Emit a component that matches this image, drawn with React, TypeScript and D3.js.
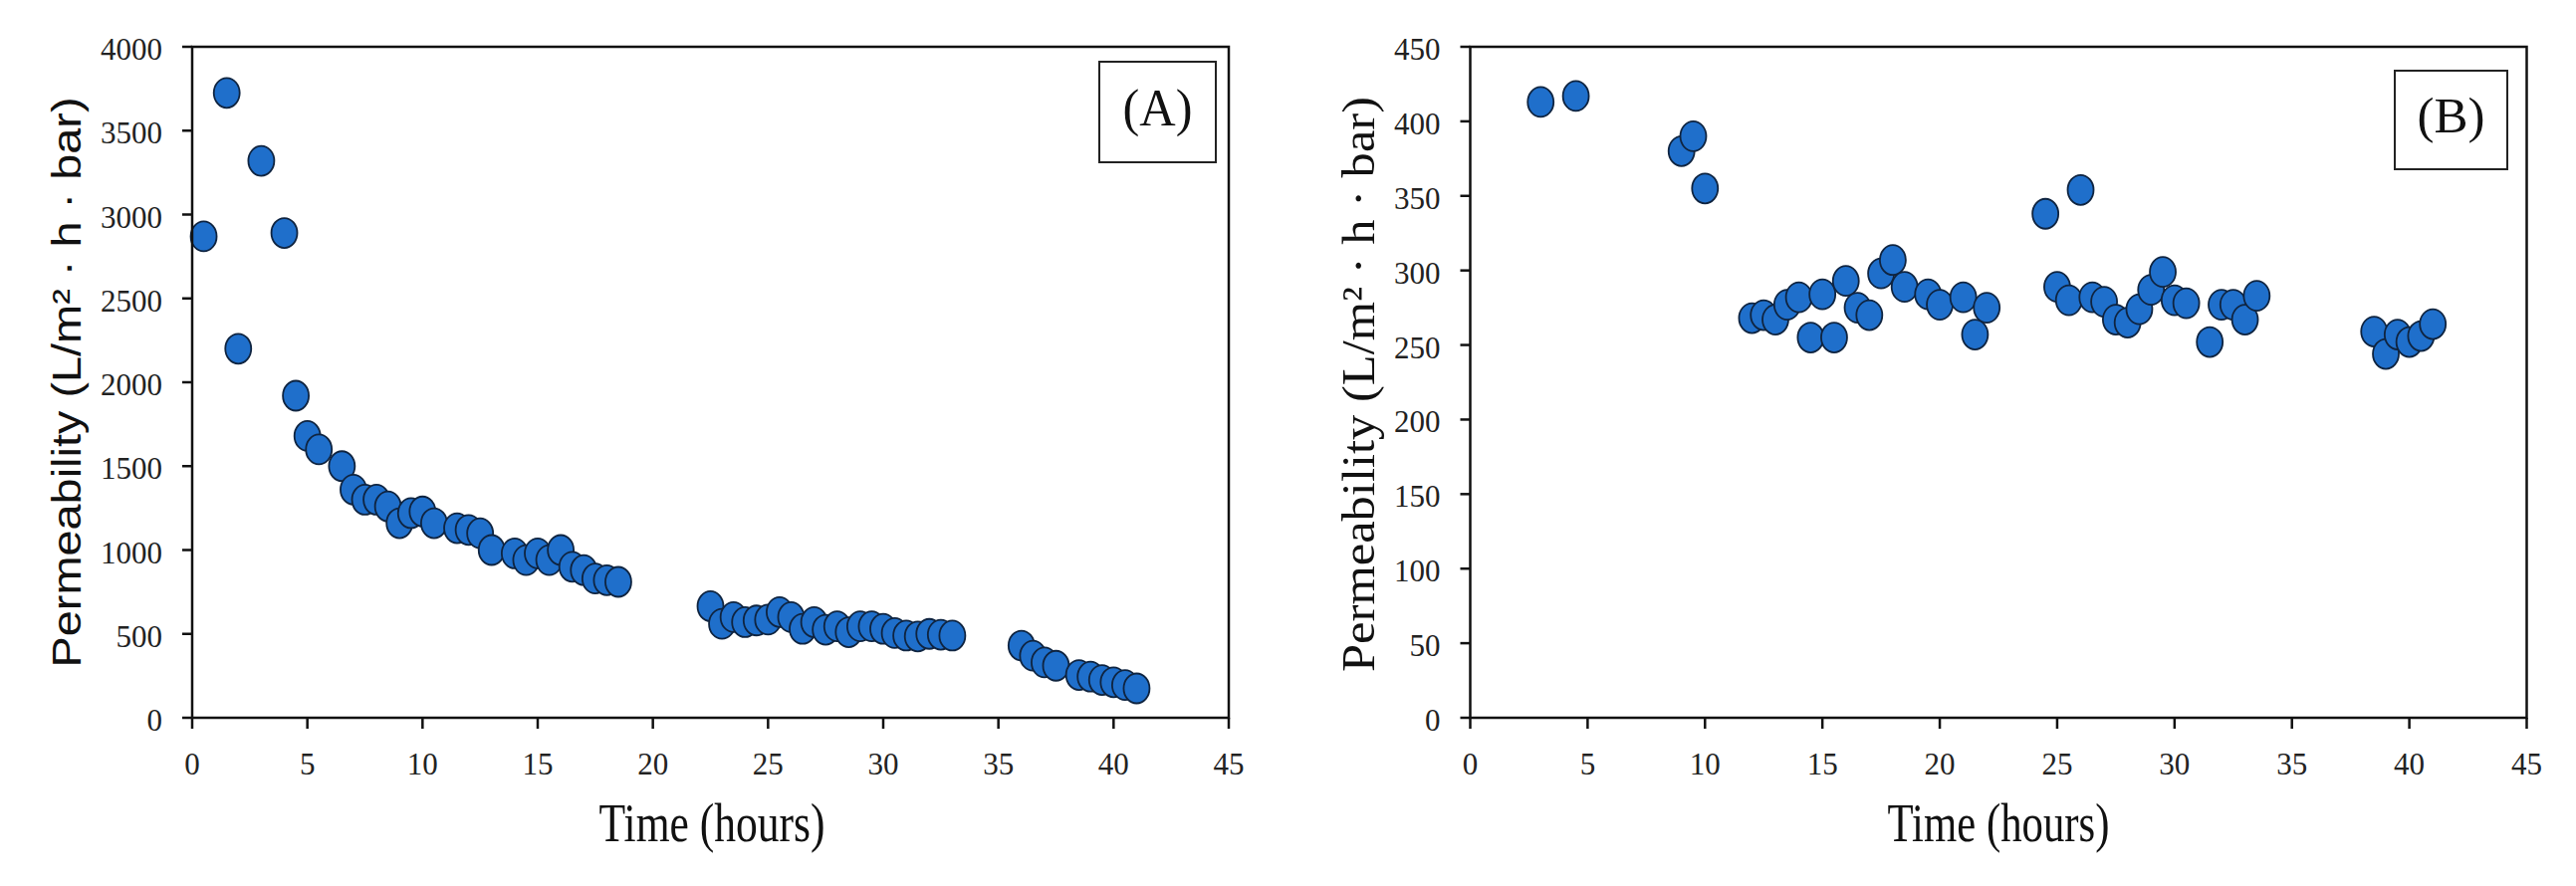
import React from 'react'
import * as d3 from 'd3'

// Panel A: permeability over time (first membrane)
const timeA = [
  0.5, 1.5, 2, 3, 4, 4.5, 5, 5.5, 6.5, 7, 7.5, 8, 8.5, 9, 9.5, 10, 10.5, 11.5, 12, 12.5, 13,
  14, 14.5, 15, 15.5, 16, 16.5, 17, 17.5, 18, 18.5,
  22.5, 23, 23.5, 24, 24.5, 25, 25.5, 26, 26.5, 27, 27.5, 28, 28.5, 29, 29.5, 30, 30.5, 31, 31.5, 32, 32.5, 33,
  36, 36.5, 37, 37.5, 38.5, 39, 39.5, 40, 40.5, 41,
]
const permA = [
  2870, 3725, 2200, 3320, 2890, 1920, 1680, 1600, 1500, 1360, 1300, 1300, 1260, 1160, 1220, 1230, 1160, 1130, 1120, 1100, 1000,
  980, 940, 980, 940, 1000, 900, 880, 830, 820, 810,
  665, 560, 600, 570, 580, 585, 630, 600, 530, 570, 525, 545, 510, 545, 545, 530, 505, 490, 485, 500, 495, 490,
  430, 370, 330, 310, 255, 245, 225, 212, 195, 175,
]

// Panel B
const timeB = [
  3, 4.5, 9, 9.5, 10,
  12, 12.5, 13, 13.5, 14, 14.5, 15, 15.5, 16, 16.5, 17, 17.5, 18, 18.5,
  19.5, 20, 21, 21.5, 22,
  24.5, 25, 25.5, 26, 26.5, 27, 27.5, 28, 28.5, 29, 29.5, 30, 30.5,
  31.5, 32, 32.5, 33, 33.5,
  38.5, 39, 39.5, 40, 40.5, 41,
]
const permB = [
  413, 417, 380, 390, 355,
  268, 270, 267, 277, 282, 255, 284, 255, 293, 275, 270, 298, 307, 289,
  284, 277, 282, 257, 275,
  338, 289, 280, 354, 282, 279, 267, 265, 274, 287, 299, 280, 278,
  252, 277, 277, 267, 283,
  259, 244, 257, 252, 256, 264,
]

const xTicks = [0, 5, 10, 15, 20, 25, 30, 35, 40, 45]
const yTicksA = [0, 500, 1000, 1500, 2000, 2500, 3000, 3500, 4000]
const yTicksB = [0, 50, 100, 150, 200, 250, 300, 350, 400, 450]

const X_LABEL = 'Time (hours)'
const Y_LABEL = 'Permeability (L/m\u00b2 \u00b7 h \u00b7 bar)'

const SERIF = '"Liberation Serif", "Times New Roman", serif'
const SANS = '"Liberation Sans", Arial, sans-serif'
const FILL = '#1f6fcb'
const EDGE = '#0f2440'

const panels = [
  {
    key: 'A', times: timeA, values: permA, yTicks: yTicksA, tag: '(A)',
    left: 193, right: 1234, top: 47, bottom: 721,
    yFont: SANS, ySize: 41, yLabelX: 81, yLabelY: 384, yLabelLen: 573,
    xLabelX: 715, xLabelLen: 227,
    box: { x: 1104, y: 62, w: 117, h: 101 }, tagSize: 52, tagLen: 70,
  },
  {
    key: 'B', times: timeB, values: permB, yTicks: yTicksB, tag: '(B)',
    left: 1476.5, right: 2537.5, top: 47, bottom: 721,
    yFont: SERIF, ySize: 46, yLabelX: 1380, yLabelY: 386, yLabelLen: 578,
    xLabelX: 2007, xLabelLen: 223,
    box: { x: 2405, y: 71, w: 113, h: 99 }, tagSize: 50, tagLen: 68,
  },
]

function Panel({ p }) {
  const x = d3.scaleLinear().domain([0, 45]).range([p.left, p.right])
  const yMax = p.yTicks[p.yTicks.length - 1]
  const y = d3.scaleLinear().domain([0, yMax]).range([p.bottom, p.top])
  const pts = d3.zip(p.times, p.values)

  return (
    <g>
      {/* y ticks + labels */}
      {p.yTicks.map((t) => (
        <g key={'y' + t}>
          <line x1={p.left - 10} x2={p.left} y1={y(t)} y2={y(t)} stroke="#111" strokeWidth={2.5} />
          <text x={p.left - 30} y={y(t) + 13} textAnchor="end" fontFamily={SERIF} fontSize={31} fill="#222">
            {t}
          </text>
        </g>
      ))}
      {xTicks.map((t) => (
        <g key={'x' + t}>
          <line x1={x(t)} x2={x(t)} y1={p.bottom} y2={p.bottom + 11} stroke="#111" strokeWidth={2.5} />
          <text x={x(t)} y={p.bottom + 57} textAnchor="middle" fontFamily={SERIF} fontSize={31} fill="#222">
            {t}
          </text>
        </g>
      ))}

      {pts.map(([t, v], i) => (
        <ellipse key={i} cx={x(t)} cy={y(v)} rx={13} ry={15} fill={FILL} stroke={EDGE} strokeWidth={1.8} />
      ))}

      <rect x={p.left} y={p.top} width={p.right - p.left} height={p.bottom - p.top}
        fill="none" stroke="#111" strokeWidth={2.5} />

      <rect x={p.box.x} y={p.box.y} width={p.box.w} height={p.box.h} fill="#fff" stroke="#222" strokeWidth={2} />
      <text x={p.box.x + p.box.w / 2} y={p.box.y + p.box.h / 2 + p.tagSize * 0.25} textAnchor="middle"
        fontFamily={SERIF} fontSize={p.tagSize} textLength={p.tagLen} lengthAdjust="spacingAndGlyphs" fill="#111">
        {p.tag}
      </text>

      <text x={p.xLabelX} y={845} textAnchor="middle" fontFamily={SERIF} fontSize={55}
        textLength={p.xLabelLen} lengthAdjust="spacingAndGlyphs" fill="#111">
        {X_LABEL}
      </text>
      <text transform={`translate(${p.yLabelX},${p.yLabelY}) rotate(-90)`} textAnchor="middle"
        fontFamily={p.yFont} fontSize={p.ySize} textLength={p.yLabelLen} lengthAdjust="spacingAndGlyphs" fill="#111">
        {Y_LABEL}
      </text>
    </g>
  )
}

export default function App() {
  return (
    <svg width={2587} height={890} viewBox="0 0 2587 890"
      style={{ position: 'absolute', left: 0, top: 0, display: 'block', background: '#fff' }}>
      <rect width={2587} height={890} fill="#fff" />
      {panels.map((p) => <Panel key={p.key} p={p} />)}
    </svg>
  )
}
